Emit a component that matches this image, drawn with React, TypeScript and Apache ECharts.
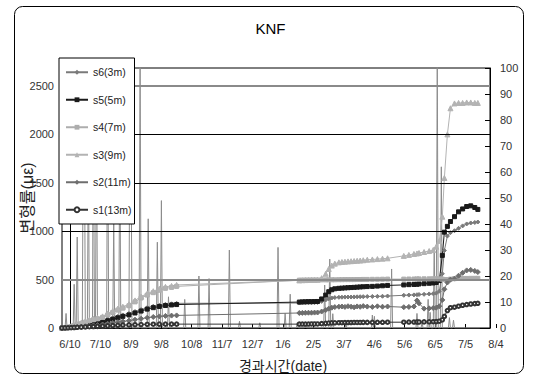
import React, { useEffect, useRef } from 'react';
import * as echarts from 'echarts';

const FONT = "'Liberation Sans', Arial, 'Noto Sans CJK KR', sans-serif";

// x values: days since 6/10; tick labels every 30 days from 6/10
const tickLabels = ['6/10', '7/10', '8/9', '9/8', '10/8', '11/7', '12/7', '1/6', '2/5', '3/7', '4/6', '5/6', '6/5', '7/5', '8/4'];
const gridValues = [500, 1000, 1500, 2000, 2500];

const earlyDays = [-8, -5, -2, 1, 4, 7, 11, 15, 19, 23, 27, 32, 37, 42, 47, 52, 58, 64, 70, 76, 82, 88, 94, 100, 105];
const lateDays = [226, 229, 232, 235, 238, 241, 244, 248, 252, 255, 258, 261, 265, 268, 271, 274, 277, 280, 283, 286, 289, 293, 298, 303, 308, 313, 329, 334, 339, 342, 344, 349, 354, 358, 361, 364, 367, 369, 372, 375, 379, 383, 387, 391, 395, 399, 402];

const s6Early = [0, 3, 6, 10, 15, 20, 28, 35, 45, 55, 65, 75, 90, 105, 120, 135, 150, 170, 190, 210, 225, 235, 245, 250, 255];
const s6Late = [258, 260, 261, 262, 262, 263, 264, 275, 290, 302, 310, 314, 317, 318, 319, 320, 320, 321, 322, 323, 324, 325, 326, 327, 328, 330, 338, 340, 342, 344, 346, 348, 352, 355, 360, 380, 560, 800, 950, 985, 1005, 1030, 1055, 1075, 1085, 1090, 1095];

const s5Early = [0, 2, 5, 8, 12, 16, 22, 28, 35, 42, 50, 60, 75, 90, 105, 120, 135, 155, 175, 195, 210, 222, 232, 238, 242];
const s5Late = [268, 270, 271, 272, 272, 273, 274, 300, 340, 375, 395, 405, 410, 412, 414, 416, 418, 420, 422, 424, 426, 428, 430, 433, 436, 440, 445, 448, 450, 452, 455, 458, 462, 465, 470, 490, 750, 990, 1050, 1100, 1150, 1200, 1230, 1255, 1262, 1245, 1225];

const s4Early = [0, 4, 8, 15, 25, 35, 45, 60, 75, 85, 95, 110, 135, 160, 185, 205, 230, 270, 310, 340, 365, 390, 410, 420, 430];
const s4Late = [494, 494, 495, 495, 496, 496, 496, 497, 497, 498, 498, 498, 499, 499, 500, 500, 500, 500, 501, 501, 502, 502, 503, 503, 504, 505, 505, 506, 506, 507, 507, 508, 508, 509, 509, 508, 505, 500, 500, 505, 510, 512, 512, 512, 513, 513, 513];

const s3Early = [0, 5, 10, 20, 30, 40, 55, 70, 85, 95, 105, 120, 150, 175, 200, 220, 245, 285, 325, 355, 380, 405, 425, 435, 445];
const s3Late = [492, 494, 495, 496, 496, 497, 498, 515, 560, 610, 645, 665, 678, 682, 685, 688, 690, 692, 695, 697, 700, 705, 708, 712, 716, 720, 745, 755, 765, 770, 775, 785, 795, 805, 840, 900, 1150, 1550, 2000, 2270, 2320, 2325, 2325, 2330, 2330, 2325, 2325];

const s2Early = [0, 2, 4, 6, 8, 10, 14, 18, 22, 26, 30, 36, 44, 52, 60, 68, 76, 86, 96, 106, 114, 120, 125, 128, 130];
const s2Late = [155, 156, 157, 158, 158, 159, 160, 170, 185, 200, 210, 216, 220, 222, 218, 225, 220, 214, 223, 219, 226, 221, 218, 224, 220, 222, 215, 218, 222, 285, 255, 200, 203, 206, 210, 225, 290, 400, 470, 500, 510, 540, 570, 595, 600, 590, 578];

const s1Early = [0, 1, 2, 3, 5, 7, 9, 11, 13, 15, 17, 19, 22, 25, 28, 30, 32, 34, 36, 38, 39, 40, 40, 40, 40];
const s1Late = [40, 41, 41, 41, 42, 42, 42, 45, 48, 51, 53, 54, 55, 55, 56, 56, 56, 57, 57, 57, 58, 58, 58, 59, 59, 60, 60, 61, 61, 62, 62, 63, 64, 65, 66, 70, 85, 120, 180, 210, 215, 225, 235, 242, 248, 252, 255];

// spiky series on the secondary axis: [day, value]
const spikes: [number, number][] = [
  [-8, 0], [-5, 0], [-4, 5.6], [-3, 0], [3, 0], [4, 16.8], [5, 0], [6, 0], [7, 35], [8, 0],
  [12, 0], [13, 80], [14, 90], [15, 0], [17, 0], [18, 70], [19, 0], [22, 0], [23, 95], [24, 0], [25, 0], [26, 85], [27, 0],
  [36, 0], [37, 98], [38, 0], [42, 0], [43, 40], [44, 0], [48, 0], [49, 75], [50, 0],
  [58, 0], [59, 95], [60, 80], [61, 0], [68, 0], [69, 104], [70, 0], [76, 0], [77, 42], [78, 0],
  [85, 0], [86, 33], [87, 0], [89, 0], [90, 49], [91, 0], [96, 0], [97, 12], [98, 0],
  [112, 0], [113, 11], [114, 0], [126, 0], [127, 20], [128, 0], [136, 0], [137, 19], [138, 0],
  [156, 0], [157, 30], [158, 0], [166, 0], [167, 2.6], [168, 0], [186, 0], [187, 2], [188, 0],
  [204, 0], [205, 31], [206, 0], [211, 0], [212, 5.6], [213, 0], [216, 0], [217, 13], [218, 0],
  [223, 0], [224, 2], [225, 0], [231, 0], [232, 1.5], [233, 0], [250, 0], [251, 16.5], [252, 0],
  [255, 0], [256, 26.5], [257, 0], [258, 0], [259, 5.5], [260, 0], [271, 0], [272, 1.5], [273, 0],
  [297, 0], [298, 5], [299, 0], [300, 4.5], [301, 0], [316, 0], [317, 22.7], [318, 0],
  [341, 0], [342, 5.6], [343, 0], [346, 0], [347, 2.2], [348, 0], [352, 0], [353, 11], [354, 0], [355, 6], [356, 0],
  [358, 0], [359, 31], [360, 0], [361, 0], [362, 104], [363, 0], [365, 0], [366, 62], [367, 0],
  [373, 0], [374, 4], [375, 0], [377, 0], [378, 3], [379, 0], [404, 0],
];

const days = earlyDays.concat(lateDays);
const zip = (early: number[], late: number[]) => early.concat(late).map((v, i) => [days[i], v]);

const seriesDefs = [
  { name: 's6(3m)', values: zip(s6Early, s6Late), color: '#7a7a7a', symbol: 'diamond', size: 4 },
  { name: 's5(5m)', values: zip(s5Early, s5Late), color: '#1a1a1a', symbol: 'rect', size: 4 },
  { name: 's4(7m)', values: zip(s4Early, s4Late), color: '#adadad', symbol: 'rect', size: 4 },
  { name: 's3(9m)', values: zip(s3Early, s3Late), color: '#b3b3b3', symbol: 'triangle', size: 5 },
  { name: 's2(11m)', values: zip(s2Early, s2Late), color: '#6e6e6e', symbol: 'diamond', size: 5 },
  { name: 's1(13m)', values: zip(s1Early, s1Late), color: '#333333', symbol: 'emptyCircle', size: 3.5 },
];

export default function App() {
  const ref = useRef<HTMLDivElement>(null);
  useEffect(() => {
    const chart = echarts.init(ref.current!, null, { renderer: 'svg' });
    const option: any = {
      animation: false,
      backgroundColor: '#fff',
      textStyle: { fontFamily: FONT },
      title: {
        text: 'KNF', left: 'center', top: 16,
        textStyle: { fontFamily: FONT, fontSize: 15, fontWeight: 'normal', color: '#000' },
      },
      graphic: [
        {
          type: 'rect', left: 12, top: 4, z: 0, silent: true,
          shape: { width: 509, height: 367, r: 8 },
          style: { fill: 'none', stroke: '#000', lineWidth: 1 },
        },
      ],
      legend: {
        orient: 'vertical', left: 59, top: 58,
        padding: [9, 3, 9, 6], itemGap: 17, itemWidth: 22, itemHeight: 6,
        backgroundColor: '#fff', borderColor: '#000', borderWidth: 1, z: 10,
        textStyle: { fontFamily: FONT, fontSize: 10.5, color: '#222' },
        data: seriesDefs.map((s) => s.name),
      },
      grid: [
        {
          left: 62, right: 51, top: 68, bottom: 55, show: true, borderColor: '#000', borderWidth: 1,
          containLabel: false, outerBoundsMode: 'none',
        },
        // date-label axis, same scale as the data axis, starting at 6/10
        { left: 70, right: 45, top: 68, bottom: 55, show: false, containLabel: false, outerBoundsMode: 'none' },
      ],
      xAxis: [
        {
          gridIndex: 0, type: 'value', min: -8, max: 414,
          axisLine: { lineStyle: { color: '#000' } },
          axisTick: { show: false }, axisLabel: { show: false }, splitLine: { show: false },
        },
        {
          gridIndex: 1, type: 'value', min: 0, max: 420, interval: 30,
          name: '경과시간(date)', nameLocation: 'middle', nameGap: 31,
          nameTextStyle: { fontFamily: FONT, fontSize: 14, color: '#222' },
          axisLine: { show: false },
          axisTick: { show: true, inside: true, length: 4, lineStyle: { color: '#000' } },
          axisLabel: {
            margin: 10, color: '#333', fontSize: 11, fontFamily: FONT,
            formatter: (v: number) => tickLabels[Math.round(v / 30)] ?? '',
          },
          splitLine: { show: false },
        },
      ],
      yAxis: [
        {
          gridIndex: 0, type: 'value', min: 0, max: 2686, interval: 500,
          name: '변형률(με)', nameLocation: 'middle', nameGap: 27, nameRotate: 90, nameMoveOverlap: false,
          nameTextStyle: { fontFamily: FONT, fontSize: 16, color: '#222' },
          axisLine: { show: true, lineStyle: { color: '#000' } },
          axisTick: { show: true, inside: true, length: 6, lineStyle: { color: '#000' } },
          axisLabel: {
            color: '#333', fontSize: 11, fontFamily: FONT, showMaxLabel: false, margin: 8,
            formatter: (v: number) => String(v),
          },
          splitLine: { show: false },
        },
        {
          gridIndex: 0, type: 'value', min: 0, max: 100, interval: 10,
          axisLine: { show: true, lineStyle: { color: '#000' } },
          axisTick: { show: true, inside: true, length: 5, lineStyle: { color: '#000' } },
          axisLabel: { color: '#333', fontSize: 11, fontFamily: FONT, margin: 10 },
          splitLine: { show: false },
        },
        { gridIndex: 1, type: 'value', min: 0, max: 1, show: false },
      ],
      series: [
        {
          name: 'gridlines', type: 'line', data: [], yAxisIndex: 0, z: 1, silent: true,
          markLine: {
            silent: true, symbol: ['none', 'none'], label: { show: false },
            data: gridValues.map((v) => ({
              yAxis: v,
              lineStyle: {
                color: v === 500 || v === 2500 ? '#8a8a8a' : '#000',
                width: v === 500 || v === 2500 ? 2 : 1, type: 'solid',
              },
            })),
          },
        },
        {
          name: 'spikes', type: 'line', yAxisIndex: 1, data: spikes, showSymbol: false, symbol: 'none',
          lineStyle: { color: '#8c8c8c', width: 1 }, z: 2, silent: true,
        },
        ...seriesDefs.map((s) => ({
          name: s.name, type: 'line', data: s.values, yAxisIndex: 0, z: 3,
          symbol: s.symbol, symbolSize: s.size, showAllSymbol: true,
          itemStyle: { color: s.color, borderColor: s.color },
          lineStyle: { color: s.color, width: 1 },
        })),
      ],
    };
    chart.setOption(option);
    return () => chart.dispose();
  }, []);
  return <div ref={ref} style={{ width: 541, height: 383, position: 'absolute', left: 0, top: 0 }} />;
}
